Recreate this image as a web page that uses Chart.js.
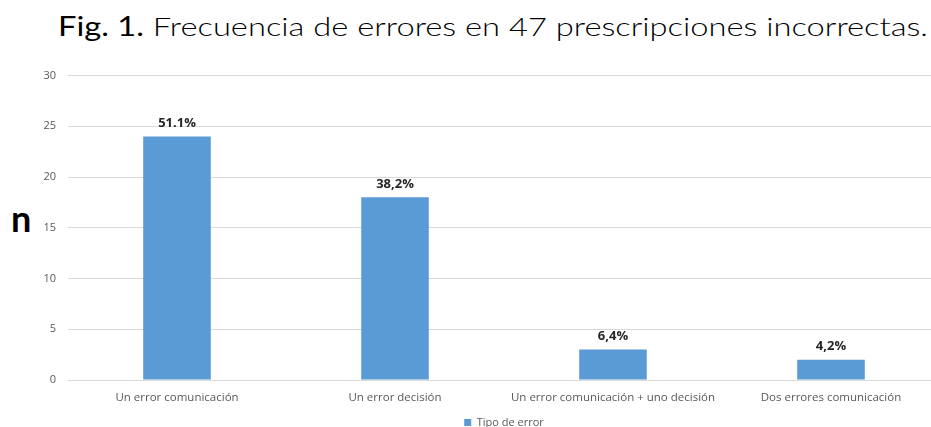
<!DOCTYPE html>
<html>
<head>
<meta charset="utf-8">
<script src="https://cdn.jsdelivr.net/npm/chart.js@4"></script>
<style>
  html, body { margin: 0; padding: 0; background: #fff; width: 931px; height: 427px; overflow: hidden; }
  #title { position: absolute; left: 58px; top: 10px; font-family: Lato, sans-serif; font-weight: 300; font-size: 26px; color: #000; white-space: nowrap; transform-origin: left top; }
  #title b { font-weight: 400; }
  #ylab { position: absolute; left: 11px; top: 196px; font-family: Lato, sans-serif; font-weight: 700; font-size: 36px; color: #000; }
  #wrap { position: absolute; left: 0; top: 57px; width: 950px; height: 383px; }
</style>
</head>
<body>
<div id="title"><b>Fig. 1.</b> Frecuencia de errores en 47 prescripciones incorrectas.</div>
<div id="ylab">n</div>
<div id="wrap"><canvas id="chart"></canvas></div>
<script>
const categories = ["Un error comunicación", "Un error decisión", "Un error comunicación + uno decisión", "Dos errores comunicación"];
const counts = [24, 18, 3, 2];
const pctLabels = ["51.1%", "38,2%", "6,4%", "4,2%"];
const seriesName = "Tipo de error";
const yMin = 0, yMax = 30, yStep = 5;

// fit the title to the reference width
const title = document.getElementById("title");
const tw = title.getBoundingClientRect().width;
title.style.transform = `scaleX(${870 / tw})`;

const barLabels = {
  id: "barLabels",
  afterDatasetsDraw(chart) {
    const ctx = chart.ctx;
    const meta = chart.getDatasetMeta(0);
    ctx.save();
    ctx.font = "bold 13px 'Open Sans', sans-serif";
    ctx.fillStyle = "#262626";
    ctx.textAlign = "center";
    ctx.textBaseline = "bottom";
    meta.data.forEach((bar, i) => {
      ctx.fillText(pctLabels[i], bar.x, bar.y - 7);
    });
    ctx.restore();
  }
};

new Chart(document.getElementById("chart"), {
  type: "bar",
  data: {
    labels: categories,
    datasets: [{
      label: seriesName,
      data: counts,
      backgroundColor: "#5b9bd5",
      borderWidth: 0,
      categoryPercentage: 1,
      barPercentage: 0.31
    }]
  },
  options: {
    responsive: true,
    maintainAspectRatio: false,
    animation: false,
    layout: { padding: { top: 9, right: 10, bottom: 2, left: 0 } },
    plugins: {
      tooltip: { enabled: false },
      legend: {
        position: "bottom",
        fullSize: false,
        labels: {
          color: "#595959",
          font: { family: "'Open Sans', sans-serif", size: 11 },
          boxWidth: 7, boxHeight: 7, padding: 5
        }
      }
    },
    scales: {
      x: {
        grid: { display: false },
        border: { display: false },
        ticks: { color: "#595959", font: { family: "'Open Sans', sans-serif", size: 11.5 }, padding: 3, maxRotation: 0 },
        afterFit: s => { s.height = 32; }
      },
      y: {
        min: yMin, max: yMax,
        grid: { color: "#d9d9d9", drawTicks: false },
        border: { display: false },
        ticks: { stepSize: yStep, color: "#595959", font: { family: "'Open Sans', sans-serif", size: 11 }, padding: 12 },
        afterFit: s => { s.width = 68; }
      }
    }
  },
  plugins: [barLabels]
});
</script>
</body>
</html>
